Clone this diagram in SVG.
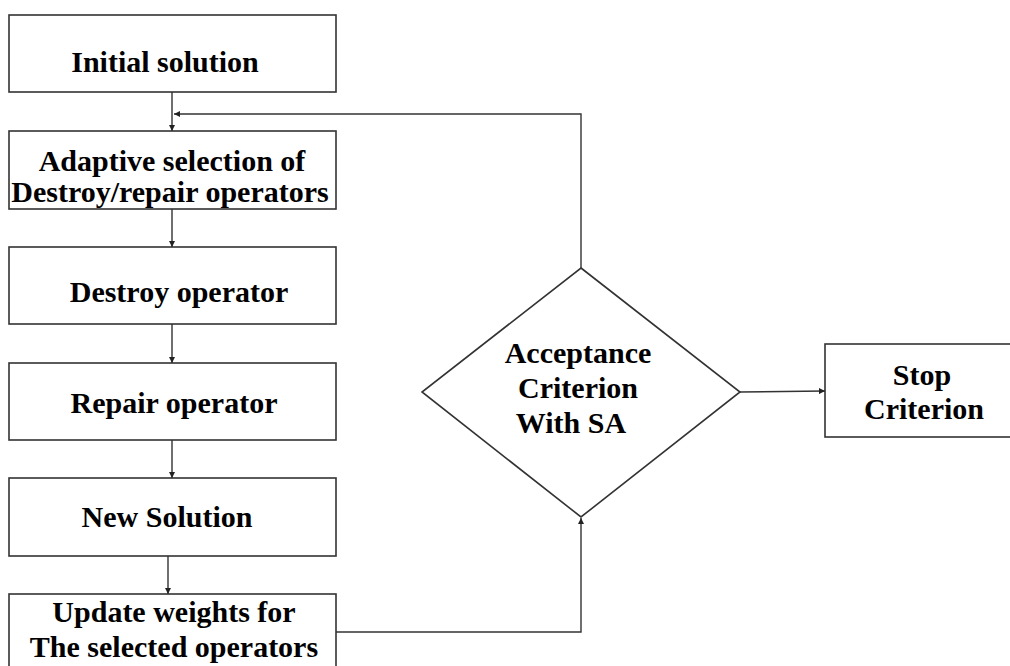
<svg xmlns="http://www.w3.org/2000/svg" width="1010" height="666" viewBox="0 0 1010 666">
<defs>
<marker id="ah" viewBox="0 0 10 10" refX="10" refY="5" markerWidth="6" markerHeight="6" orient="auto" markerUnits="userSpaceOnUse">
<path d="M0,0 L10,5 L0,10 z" fill="#222"/>
</marker>
<style>
.box{fill:#fff;stroke:#333;stroke-width:1.6}
.t{font-family:"Liberation Serif","Times New Roman",serif;font-weight:bold;font-size:30px;fill:#000;text-anchor:middle}
.c{fill:none;stroke:#333;stroke-width:1.4}
</style>
</defs>
<rect width="1010" height="666" fill="#fff"/>
<g id="n1"><rect class="box" x="9" y="15" width="327" height="77"/><text class="t" x="165" y="72">Initial solution</text></g>
<g id="n2"><rect class="box" x="9" y="131" width="327" height="78"/><text class="t" x="172" y="171">Adaptive selection of</text><text class="t" x="170" y="202">Destroy/repair operators</text></g>
<g id="n3"><rect class="box" x="9" y="247" width="327" height="77"/><text class="t" x="179" y="302">Destroy operator</text></g>
<g id="n4"><rect class="box" x="9" y="363" width="327" height="77"/><text class="t" x="174" y="413">Repair operator</text></g>
<g id="n5"><rect class="box" x="9" y="478" width="327" height="78"/><text class="t" x="167" y="527">New Solution</text></g>
<g id="n6"><rect class="box" x="9" y="594" width="327" height="90"/><text class="t" x="174" y="622">Update weights for</text><text class="t" x="174" y="657">The selected operators</text></g>
<g id="n7"><polygon class="box" points="581,268 740,392 581,517 422,392"/><text class="t" x="578" y="363">Acceptance</text><text class="t" x="578" y="398">Criterion</text><text class="t" x="571" y="433">With SA</text></g>
<g id="n8"><rect class="box" x="825" y="344" width="200" height="93"/><text class="t" x="922" y="385">Stop</text><text class="t" x="924" y="419">Criterion</text></g>
<g id="connectors">
<path class="c" d="M172,92 V131" marker-end="url(#ah)"/>
<path class="c" d="M581,268 V114 H174" marker-end="url(#ah)"/>
<path class="c" d="M172,209 V247" marker-end="url(#ah)"/>
<path class="c" d="M172,324 V363" marker-end="url(#ah)"/>
<path class="c" d="M172,440 V478" marker-end="url(#ah)"/>
<path class="c" d="M168,556 V594" marker-end="url(#ah)"/>
<path class="c" d="M336,632 H581 V518" marker-end="url(#ah)"/>
<path class="c" d="M740,392 L825,391" marker-end="url(#ah)"/>
</g>
</svg>
